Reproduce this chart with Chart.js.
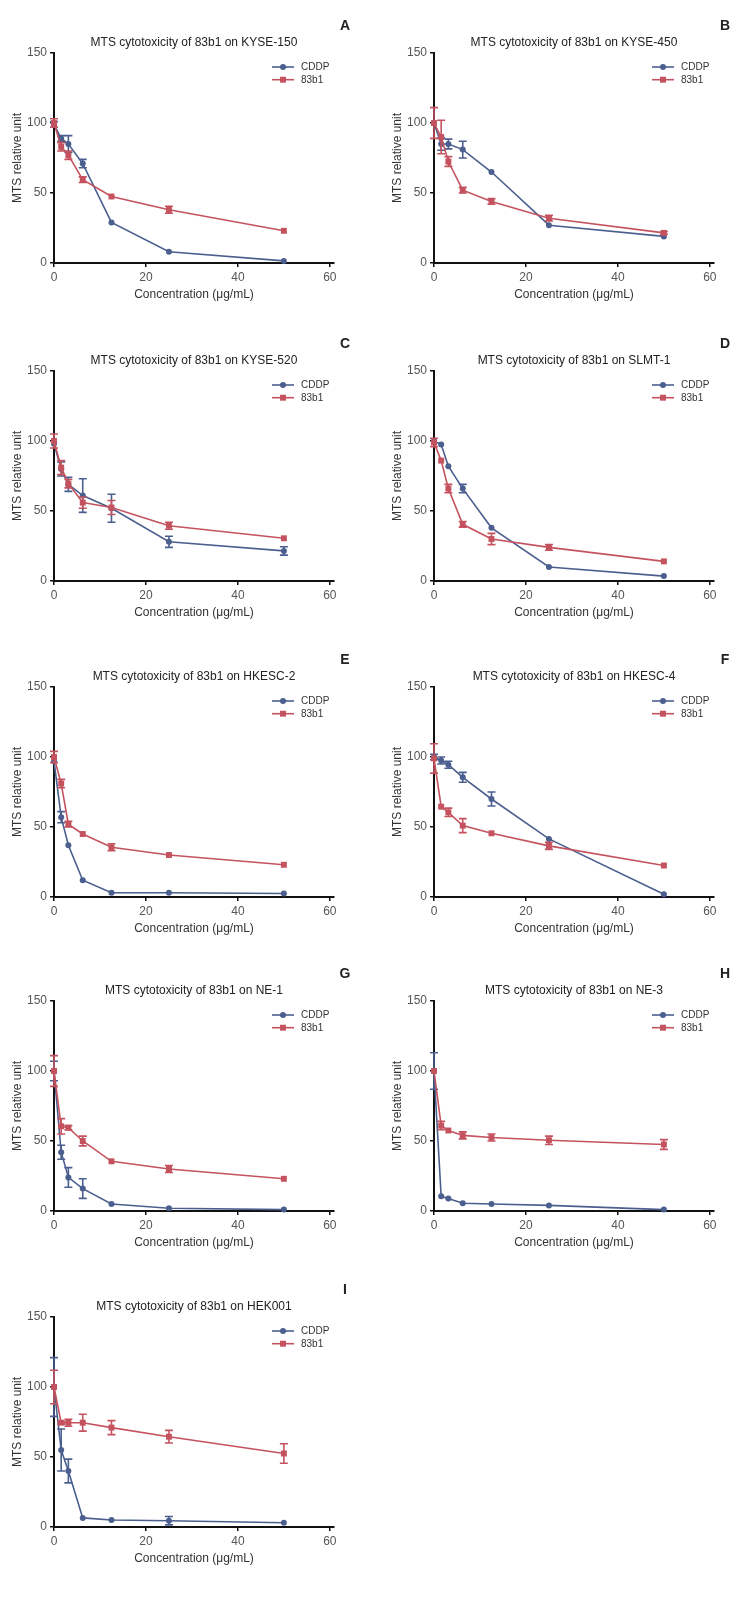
<!DOCTYPE html>
<html>
<head>
<meta charset="utf-8">
<script src="https://cdn.jsdelivr.net/npm/chart.js@4/dist/chart.umd.min.js"></script>
<style>
  html, body { margin: 0; padding: 0; background: #fff; }
  body { width: 751px; height: 1597px; position: relative; overflow: hidden; }
  canvas { position: absolute; }
</style>
</head>
<body>
<canvas id="cA" width="375" height="310" style="left:0px;top:0px"></canvas>
<canvas id="cB" width="371" height="310" style="left:380px;top:0px"></canvas>
<canvas id="cC" width="375" height="310" style="left:0px;top:318px"></canvas>
<canvas id="cD" width="371" height="310" style="left:380px;top:318px"></canvas>
<canvas id="cE" width="375" height="310" style="left:0px;top:634px"></canvas>
<canvas id="cF" width="371" height="310" style="left:380px;top:634px"></canvas>
<canvas id="cG" width="375" height="310" style="left:0px;top:948px"></canvas>
<canvas id="cH" width="371" height="310" style="left:380px;top:948px"></canvas>
<canvas id="cI" width="375" height="310" style="left:0px;top:1264px"></canvas>
<script>
// concentrations (µg/mL) shared by every panel
const conc = [0, 1.5625, 3.125, 6.25, 12.5, 25, 50];
const seriesNames = ['CDDP', '83b1'];
const xTicks = [0, 20, 40, 60];
const yTicks = [0, 50, 100, 150];

const panelLetters = ['A', 'B', 'C', 'D', 'E', 'F', 'G', 'H', 'I'];
const cellLines = ['KYSE-150', 'KYSE-450', 'KYSE-520', 'SLMT-1', 'HKESC-2', 'HKESC-4', 'NE-1', 'NE-3', 'HEK001'];

// mean and error (SD)
const cddpA = [99, 89, 85, 71, 29, 8, 1.5];
const cddpErrA = [2, 2, 6, 3, 0, 0, 0];
const b83A = [100, 83, 77, 59.5, 47.5, 38, 23];
const b83ErrA = [3, 3, 3, 2, 0, 2.5, 0];

const cddpB = [100, 85, 85, 81, 65, 27, 19];
const cddpErrB = [0, 4.5, 3.5, 6, 0, 0, 0];
const b83B = [100, 90, 72.5, 52, 44, 32, 21.5];
const b83ErrB = [11, 12, 3.5, 2, 2, 2, 1];

const cddpC = [98, 80, 69, 61, 52, 28, 21.5];
const cddpErrC = [0, 5, 5, 12, 10, 4, 3];
const b83C = [100, 81, 69.5, 56, 52.5, 39.5, 30.5];
const b83ErrC = [5, 5, 3, 4, 5, 2.5, 0];

const cddpD = [100, 97.5, 82, 66, 38, 10, 3.5];
const cddpErrD = [0, 0, 0, 3, 0, 0, 0];
const b83D = [99, 86, 66, 40.5, 30, 24, 14];
const b83ErrD = [3, 0, 3, 2, 4, 2, 0];

const cddpE = [97, 57, 37, 12, 3, 3, 2.5];
const cddpErrE = [0, 4, 0, 0, 0, 0, 0];
const b83E = [100, 81, 52, 45, 35.5, 30, 23];
const b83ErrE = [4, 3, 2, 0, 2.5, 0, 0];

const cddpF = [100, 97.5, 94.5, 85.5, 70, 41.5, 2];
const cddpErrF = [2, 2.5, 2.5, 3.5, 5, 0, 0];
const b83F = [99, 64.5, 60.5, 51, 45.5, 36.5, 22.5];
const b83ErrF = [10.5, 0, 3, 5, 0, 2.5, 0];

const cddpG = [100, 42, 24, 16, 5, 2, 1];
const cddpErrG = [7, 5, 7, 7, 0, 0, 0];
const b83G = [100, 60.5, 59.5, 50, 35.5, 30, 23];
const b83ErrG = [11, 5.5, 1.5, 3.5, 0, 2.5, 0];

const cddpH = [100, 10.5, 9, 5.5, 5, 4, 1];
const cddpErrH = [13, 0, 0, 0, 0, 0, 0];
const b83H = [100, 61, 57.5, 54, 52.5, 50.5, 47.5];
const b83ErrH = [0, 3, 0, 2.5, 2.5, 3, 3.5];

const cddpI = [100, 55, 40, 6.5, 5, 4.5, 3];
const cddpErrI = [21, 15, 8.5, 0, 0, 3, 0];
const b83I = [100, 74.5, 74.5, 74.5, 71, 64.5, 52.5];
const b83ErrI = [12, 1, 2.5, 6, 5, 4.5, 7];

const panels = [
    [cddpA, cddpErrA, b83A, b83ErrA],
    [cddpB, cddpErrB, b83B, b83ErrB],
    [cddpC, cddpErrC, b83C, b83ErrC],
    [cddpD, cddpErrD, b83D, b83ErrD],
    [cddpE, cddpErrE, b83E, b83ErrE],
    [cddpF, cddpErrF, b83F, b83ErrF],
    [cddpG, cddpErrG, b83G, b83ErrG],
    [cddpH, cddpErrH, b83H, b83ErrH],
    [cddpI, cddpErrI, b83I, b83ErrI]
];

const BLUE = '#4b5f8f';
const RED = '#c4535f';
const FONT = '"Liberation Sans", Arial, sans-serif';

// vertical error bars with caps, drawn through the chart's scales
const errorBars = {
    id: 'errorBars',
    afterDatasetDraw(chart, args) {
        const ds = chart.data.datasets[args.index];
        if (!ds.errors) return;
        const { ctx, scales: { x, y } } = chart;
        ctx.save();
        ctx.strokeStyle = ds.borderColor;
        ctx.lineWidth = 1.6;
        ds.data.forEach((p, i) => {
            const e = ds.errors[i];
            if (!e) return;
            const px = x.getPixelForValue(p.x);
            const top = y.getPixelForValue(p.y + e);
            const bot = y.getPixelForValue(p.y - e);
            ctx.beginPath();
            ctx.moveTo(px, top); ctx.lineTo(px, bot);
            ctx.moveTo(px - 4, top); ctx.lineTo(px + 4, top);
            ctx.moveTo(px - 4, bot); ctx.lineTo(px + 4, bot);
            ctx.stroke();
        });
        ctx.restore();
    }
};

// title, panel letter and GraphPad-style legend
const panelDecor = {
    id: 'panelDecor',
    afterDraw(chart, args, opts) {
        const { ctx, chartArea: a } = chart;
        ctx.save();
        ctx.fillStyle = '#222';
        ctx.textAlign = 'center';
        ctx.textBaseline = 'middle';
        ctx.font = '12px ' + FONT;
        ctx.fillText(opts.title, (a.left + a.right) / 2, a.top - 10);
        ctx.font = 'bold 14px ' + FONT;
        ctx.fillText(opts.letter, a.left + 291, a.top - 26.5);

        ctx.font = '10px ' + FONT;
        ctx.textAlign = 'left';
        chart.data.datasets.forEach((ds, i) => {
            const ly = a.top + 14 + i * 12.7;
            ctx.strokeStyle = ds.borderColor;
            ctx.lineWidth = 1.6;
            ctx.beginPath();
            ctx.moveTo(a.left + 218, ly);
            ctx.lineTo(a.left + 240, ly);
            ctx.stroke();
            ctx.fillStyle = ds.borderColor;
            Chart.helpers.drawPoint(ctx, {
                pointStyle: ds.pointStyle, radius: ds.pointRadius, borderWidth: 0
            }, a.left + 229, ly);
            ctx.fillStyle = '#333';
            ctx.fillText(ds.label, a.left + 247, ly + 0.5);
        });
        ctx.restore();
    }
};

function makeSeries(name, means, errs, color, style, radius, order) {
    return {
        label: name,
        data: conc.map((c, i) => ({ x: c, y: means[i] })),
        errors: errs,
        borderColor: color,
        backgroundColor: color,
        borderWidth: 1.6,
        pointStyle: style,
        pointRadius: radius,
        pointBorderWidth: 0,
        pointBackgroundColor: color,
        tension: 0,
        clip: false,
        order: order
    };
}

function renderPanel(idx) {
    const id = 'c' + panelLetters[idx];
    const canvas = document.getElementById(id);
    const [cddp, cddpErr, b83, b83Err] = panels[idx];
    const rightPad = canvas.width - 334;

    new Chart(canvas.getContext('2d'), {
        type: 'line',
        data: {
            datasets: [
                makeSeries(seriesNames[0], cddp, cddpErr, BLUE, 'circle', 3, 2),
                makeSeries(seriesNames[1], b83, b83Err, RED, 'rect', 4.2, 1)
            ]
        },
        options: {
            responsive: false,
            animation: false,
            layout: { padding: { top: 53, right: rightPad, left: 0, bottom: 0 } },
            plugins: {
                legend: { display: false },
                tooltip: { enabled: false },
                panelDecor: { title: 'MTS cytotoxicity of 83b1 on ' + cellLines[idx], letter: panelLetters[idx] }
            },
            scales: {
                x: {
                    type: 'linear',
                    min: 0,
                    max: 60.9,
                    afterFit(scale) { scale.height = 47; },
                    afterBuildTicks(scale) { scale.ticks = xTicks.map(v => ({ value: v })); },
                    border: { display: true, color: '#111', width: 2 },
                    grid: { drawOnChartArea: false, drawTicks: true, tickLength: 4, color: '#111', lineWidth: 1.5 },
                    ticks: { color: '#555', padding: 3, font: { family: FONT, size: 12 }, maxRotation: 0 },
                    title: { display: true, text: 'Concentration (μg/mL)', color: '#333', padding: { top: 0, bottom: 8 }, font: { family: FONT, size: 12 } }
                },
                y: {
                    min: 0,
                    max: 150,
                    afterFit(scale) { scale.width = 54; },
                    afterBuildTicks(scale) { scale.ticks = yTicks.map(v => ({ value: v })); },
                    border: { display: true, color: '#111', width: 2 },
                    grid: { drawOnChartArea: false, drawTicks: true, tickLength: 4, color: '#111', lineWidth: 1.5 },
                    ticks: { color: '#555', padding: 3, font: { family: FONT, size: 12 } },
                    title: { display: true, text: 'MTS relative unit', color: '#333', padding: { top: 10, bottom: 0 }, font: { family: FONT, size: 12 } }
                }
            }
        },
        plugins: [errorBars, panelDecor]
    });
}

panels.forEach((p, i) => renderPanel(i));
</script>
</body>
</html>
